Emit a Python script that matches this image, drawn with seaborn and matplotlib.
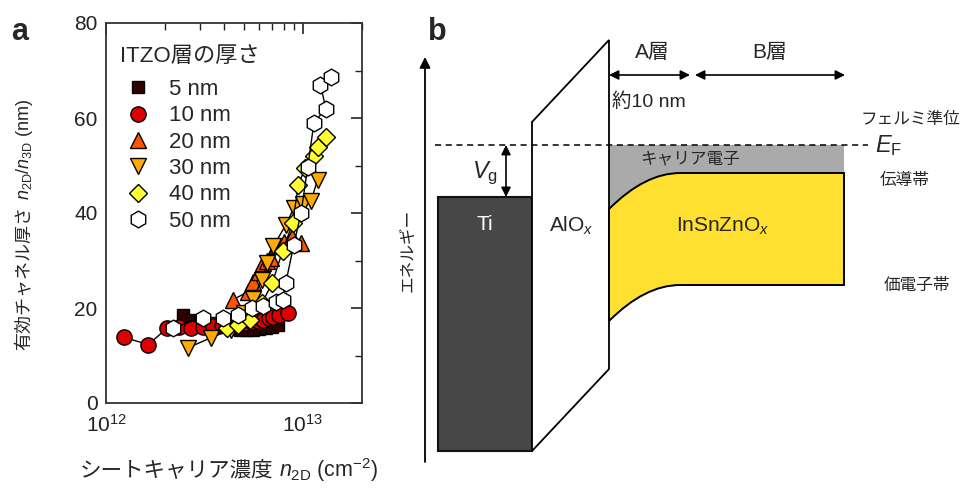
import numpy as np
import pandas as pd
import seaborn as sns
import matplotlib.pyplot as plt
from matplotlib.lines import Line2D
from matplotlib.path import Path
from matplotlib.patches import PathPatch, Polygon, Rectangle

# スタイル
sns.set_theme(style="white")
plt.rcParams['font.family'] = ['Liberation Sans', 'Noto Sans CJK JP', 'DejaVu Sans']
plt.rcParams['mathtext.fontset'] = 'custom'
plt.rcParams['mathtext.rm'] = 'Liberation Sans'
plt.rcParams['mathtext.it'] = 'Liberation Sans:italic'
plt.rcParams['mathtext.bf'] = 'Liberation Sans:bold'

# ---- データ (a) : n2D (1e12 cm^-2) と 有効チャネル厚さ (nm) ----
thickness = ['5 nm', '10 nm', '20 nm', '30 nm', '40 nm', '50 nm']

n2d_5 = [2.45, 2.7, 3.0, 3.4, 3.9, 4.3, 4.8, 5.2, 5.6, 6.0, 6.5, 7.0, 7.5]
d_5 = [18.5, 17.5, 17.0, 16.5, 16.0, 15.5, 15.3, 15.3, 15.4, 15.5, 15.7, 16.0, 16.5]

n2d_10 = [1.24, 1.64, 2.05, 2.35, 2.7, 3.1, 3.5, 3.9, 4.3, 4.7, 5.1, 5.5, 5.9, 6.3, 6.7, 7.1, 7.6, 8.4]
d_10 = [13.8, 12.3, 15.8, 16.0, 15.8, 16.0, 16.2, 16.4, 16.5, 16.7, 16.9, 17.1, 17.3, 17.5, 17.8, 18.1, 18.5, 19.0]

n2d_20 = [4.4, 5.25, 5.6, 5.97, 6.3, 6.6, 6.9, 7.3, 8.0, 8.8, 9.8]
d_20 = [21.7, 23.4, 25.5, 27.6, 29.5, 30.0, 30.5, 33.0, 34.0, 35.0, 33.7]

n2d_30 = [2.6, 3.4, 4.3, 5.0, 5.6, 6.2, 6.6, 7.1, 8.2, 9.0, 10.0, 11.0, 11.9]
d_30 = [11.6, 13.7, 15.4, 19.0, 22.0, 26.0, 29.5, 33.0, 37.5, 41.0, 42.0, 42.5, 47.0]

n2d_40 = [4.1, 4.7, 5.4, 6.2, 7.0, 7.9, 8.9, 9.5, 10.3, 11.4, 12.0, 13.1]
d_40 = [15.8, 16.5, 17.5, 21.0, 25.3, 32.0, 38.0, 46.0, 49.5, 52.0, 54.0, 56.0]

n2d_50 = [2.2, 3.1, 3.95, 4.7, 5.55, 6.3, 7.3, 7.9, 8.2, 9.0, 9.8, 10.6, 11.4, 13.1, 12.3, 13.9]
d_50 = [15.8, 18.0, 18.0, 18.5, 20.0, 20.5, 21.3, 21.7, 25.3, 33.3, 40.0, 49.7, 59.0, 62.0, 67.0, 68.6]

series_x = [n2d_5, n2d_10, n2d_20, n2d_30, n2d_40, n2d_50]
series_y = [d_5, d_10, d_20, d_30, d_40, d_50]

markers = ['s', 'o', '^', 'v', 'D', 'h']
face_colors = ['#330000', '#DD0000', '#FF5500', '#FFAA00', '#FFFF33', '#FFFFFF']
marker_sizes = [9, 11, 11, 11, 9, 12]

rows = []
for lab, xs, ys in zip(thickness, series_x, series_y):
    for i, (xv, yv) in enumerate(zip(xs, ys)):
        rows.append({'thickness': lab, 'order': i, 'n2D': xv * 1e12, 'deff': yv})
df = pd.DataFrame(rows)

# ---- データ (b) : バンド図 (模式図, 図の座標) ----
ti_box = [438, 532, 197, 451]           # 左, 右, 上, 下
alox_x = [532, 609]
alox_top = [122, 40]
alox_bottom = [451, 369]
ef_level = 145
ef_span = [435, 868]
band_x = [609, 645, 680, 844]
cb_level = [209, 173, 173, 173]
vb_level = [321, 285, 285, 285]
energy_axis = [425, 462, 57]
vg_arrow_x = 506
a_layer = [609, 690]
b_layer = [695, 845]
layer_arrow_y = 75

fig = plt.figure(figsize=(9.64, 4.92), dpi=100)

# ================= (a) =================
ax = fig.add_axes([106 / 964, (492 - 403) / 492, 256 / 964, 380 / 492])
for lab, m, fc, ms in zip(thickness, markers, face_colors, marker_sizes):
    sub = df[df['thickness'] == lab]
    sns.lineplot(data=sub, x='n2D', y='deff', sort=False, estimator=None, ax=ax,
                 color='black', lw=1.0, marker=m, markersize=ms,
                 markerfacecolor=fc, markeredgecolor='black', markeredgewidth=1.0,
                 legend=False)

ax.set_xscale('log')
ax.set_xlim(1e12, 2e13)
ax.set_ylim(0, 80)
ax.set_yticks([0, 20, 40, 60, 80])
ax.set_yticks([10, 30, 50, 70], minor=True)
ax.tick_params(which='both', direction='in', top=True, right=True,
               labelsize=15, colors='#222222', pad=6)
ax.tick_params(axis='x', which='both', pad=8)
ax.tick_params(which='major', length=8, width=1.2)
ax.tick_params(which='minor', length=5, width=1.0)
for sp in ax.spines.values():
    sp.set_color('#333333')
    sp.set_linewidth(1.3)
ax.set_xlabel('')
ax.set_ylabel('')

# 軸ラベル (和文 + 数式を並べる)
xl1 = fig.text(80 / 964, 1 - 477 / 492, 'シートキャリア濃度', fontsize=15.5,
               ha='left', va='baseline')
ax.annotate(r'$n_{\rm 2D}$ (cm$^{-2}$)', xy=(1, 1 - 477 / 492), xycoords=(xl1, 'figure fraction'),
            xytext=(4, 0), textcoords='offset points', fontsize=15.5, ha='left', va='baseline',
            annotation_clip=False)

yl1 = fig.text(29 / 964, 1 - 350 / 492, '有効チャネル厚さ', fontsize=13, rotation=90,
               rotation_mode='anchor', ha='left', va='baseline')
ax.annotate(r'$n_{\rm 2D}/n_{\rm 3D}$ (nm)', xy=(29 / 964, 1), xycoords=('figure fraction', yl1),
            xytext=(0, 4), textcoords='offset points', fontsize=13, rotation=90,
            rotation_mode='anchor', ha='left', va='baseline', annotation_clip=False)

# 凡例
ax.text((120 - 106) / 256, (403 - 56) / 380, 'ITZO層の厚さ', fontsize=16,
        transform=ax.transAxes, ha='left', va='center')
handles = [Line2D([], [], ls='none', marker=m, markersize=ms, markerfacecolor=fc,
                  markeredgecolor='black', markeredgewidth=1.0)
           for m, fc, ms in zip(markers, face_colors, marker_sizes)]
ax.legend(handles, thickness, loc='upper left', bbox_to_anchor=((127 - 106) / 256, (403 - 79) / 380),
          frameon=False, fontsize=16, handlelength=1.0, handletextpad=0.89,
          labelspacing=0.24, borderaxespad=0, borderpad=0)

fig.text(20 / 964, 1 - 32 / 492, 'a', fontsize=22, fontweight='bold', ha='center', va='center')

# ================= (b) =================
bx = fig.add_axes([400 / 964, 0, 564 / 964, 1])
bx.set_xlim(400, 964)
bx.set_ylim(492, 0)
bx.axis('off')

# エネルギー軸
bx.annotate('', xy=(energy_axis[0], energy_axis[2]), xytext=(energy_axis[0], energy_axis[1]),
            arrowprops=dict(arrowstyle='-|>', color='black', lw=1.3, mutation_scale=16,
                            shrinkA=0, shrinkB=0))
bx.text(energy_axis[0] - 17, 250, 'エネルギー', rotation=90, fontsize=12,
        ha='center', va='center')

# Ti
bx.add_patch(Rectangle((ti_box[0], ti_box[2]), ti_box[1] - ti_box[0], ti_box[3] - ti_box[2],
                       facecolor='#474747', edgecolor='#111111', lw=1.5, zorder=2))
bx.text((ti_box[0] + ti_box[1]) / 2, 224, 'Ti', color='white', fontsize=15,
        ha='center', va='center')

# AlOx
bx.add_patch(Polygon([(alox_x[0], alox_bottom[0]), (alox_x[0], alox_top[0]),
                      (alox_x[1], alox_top[1]), (alox_x[1], alox_bottom[1])],
                     closed=True, facecolor='white', edgecolor='black', lw=1.3, zorder=2))
bx.text(571, 226, r'AlO$_{\it x}$', fontsize=15, ha='center', va='center')

# キャリア電子 (灰色)
gray_verts = [(band_x[0], ef_level), (band_x[3], ef_level), (band_x[3], cb_level[3]),
              (band_x[2], cb_level[2]), (band_x[1], cb_level[1]), (band_x[0], cb_level[0]),
              (band_x[0], ef_level)]
gray_codes = [Path.MOVETO, Path.LINETO, Path.LINETO, Path.LINETO, Path.CURVE3, Path.CURVE3,
              Path.CLOSEPOLY]
bx.add_patch(PathPatch(Path(gray_verts, gray_codes), facecolor='#AAAAAA', edgecolor='none',
                       zorder=1))

# InSnZnOx (黄色)
yel_verts = [(band_x[0], cb_level[0]), (band_x[1], cb_level[1]), (band_x[2], cb_level[2]),
             (band_x[3], cb_level[3]), (band_x[3], vb_level[3]), (band_x[2], vb_level[2]),
             (band_x[1], vb_level[1]), (band_x[0], vb_level[0]), (band_x[0], cb_level[0])]
yel_codes = [Path.MOVETO, Path.CURVE3, Path.CURVE3, Path.LINETO, Path.LINETO, Path.LINETO,
             Path.CURVE3, Path.CURVE3, Path.CLOSEPOLY]
bx.add_patch(PathPatch(Path(yel_verts, yel_codes), facecolor='#FFE030', edgecolor='black',
                       lw=1.4, zorder=2))
bx.text(723, 226, r'InSnZnO$_{\it x}$', fontsize=15, ha='center', va='center', zorder=3)
bx.text(690, 159, 'キャリア電子', fontsize=12, ha='center', va='center', zorder=3)

# フェルミ準位
bx.plot(ef_span, [ef_level, ef_level], color='black', lw=1.1, ls=(0, (4, 3)), zorder=3)
bx.text(875, 146, r'$E_{\rm F}$', fontsize=17, ha='left', va='center')
bx.text(960, 119, 'フェルミ準位', fontsize=12, ha='right', va='center')
bx.text(880, 180, '伝導帯', fontsize=12, ha='left', va='center')
bx.text(884, 285, '価電子帯', fontsize=12, ha='left', va='center')

# Vg
bx.annotate('', xy=(vg_arrow_x, ef_level), xytext=(vg_arrow_x, ti_box[2]),
            arrowprops=dict(arrowstyle='<|-|>', color='black', lw=1.2, mutation_scale=14,
                            shrinkA=0, shrinkB=0))
bx.text(485, 173, r'$V_{\rm g}$', fontsize=17, ha='center', va='center')

# A層 / B層
for span, lab in zip([a_layer, b_layer], ['A層', 'B層']):
    bx.annotate('', xy=(span[1], layer_arrow_y), xytext=(span[0], layer_arrow_y),
                arrowprops=dict(arrowstyle='<|-|>', color='black', lw=1.2, mutation_scale=14,
                                shrinkA=0, shrinkB=0))
    bx.text((span[0] + span[1]) / 2 + (3 if lab == 'A層' else 0), 53, lab, fontsize=15,
            ha='center', va='center')
bx.text(612, 102, '約10 nm', fontsize=14, ha='left', va='center')

fig.text(437 / 964, 1 - 32 / 492, 'b', fontsize=22, fontweight='bold', ha='center', va='center')

fig.savefig('out.png', dpi=100)
